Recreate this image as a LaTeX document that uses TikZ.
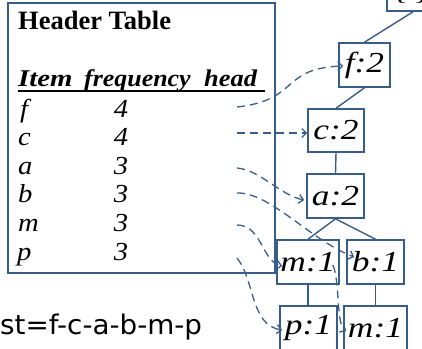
\documentclass[tikz,border=0pt]{standalone}
\usepackage{fontspec}
\setmainfont{Liberation Serif}
\newfontfamily\sansf{DejaVu Sans}
\usetikzlibrary{arrows.meta}
\definecolor{lineblue}{HTML}{385D8A}
\newcommand\widelbl[1]{\scalebox{1.22}[1]{#1}}
\newcommand\widerow[1]{\scalebox{1.1}[1]{#1}}
\begin{document}
\begin{tikzpicture}[x=1pt,y=-1pt,
  tbox/.style={draw=lineblue,line width=1.6pt,minimum height=44pt,inner sep=0pt,
    font=\fontsize{29}{33}\selectfont\itshape},
  link/.style={draw=lineblue,line width=1.4pt},
  dlink/.style={draw=lineblue,line width=1.3pt,dash pattern=on 8pt off 5pt,
    -{Straight Barb[length=4.5pt,width=9pt]}},
  txt/.style={inner sep=0pt,anchor=base west},
  hdr/.style={txt,font=\fontsize{24}{28}\selectfont\bfseries\itshape},
  itm/.style={txt,font=\fontsize{26}{30}\selectfont\itshape},
  num/.style={inner sep=0pt,anchor=base,font=\fontsize{26}{30}\selectfont\itshape}]
\useasboundingbox (0,0) rectangle (422,348);
% header table frame
\node[draw=lineblue,line width=1.6pt,minimum width=267pt,minimum height=270pt,inner sep=0pt] (htable) at (141.5,138) {};
\node[txt,font=\fontsize{26.5}{30}\selectfont\bfseries] (htitle) at (18,29) {Header Table};
\node[hdr] (hitem) at (18,86) {\scalebox{1.2}[1]{Item}};
\node[hdr] (hfreq) at (84,86) {\scalebox{1.08}[1]{frequency}};
\node[hdr] (hhead) at (204,86) {\scalebox{1.1}[1]{head}};
\draw[line width=2.5pt] (18,91) -- (265,91);
% rows
\node[itm] (rf) at (20,117) {\widerow{f}};
\node[itm] (rc) at (18,145.6) {\widerow{c}};
\node[itm] (ra) at (18,174.2) {\widerow{a}};
\node[itm] (rb) at (18,202.8) {\widerow{b}};
\node[itm] (rm) at (18,231.4) {\widerow{m}};
\node[itm] (rp) at (17,260) {\widerow{p}};
\node[num] (nf) at (121,117) {\widerow{4}};
\node[num] (nc) at (121,145.6) {\widerow{4}};
\node[num] (na) at (121,174.2) {\widerow{3}};
\node[num] (nb) at (121,202.8) {\widerow{3}};
\node[num] (nm) at (121,231.4) {\widerow{3}};
\node[num] (np) at (121,260) {\widerow{3}};
% tree
\node[tbox,minimum width=52pt,minimum height=40pt] (root) at (413,-9) {\widelbl{\{\,\}}};
\node[tbox,minimum width=51pt] (f2) at (364.5,65) {\widelbl{f:2}};
\node[tbox,minimum width=56pt,minimum height=43pt] (c2) at (336,130.5) {\widelbl{c:2}};
\node[tbox,minimum width=57pt] (a2) at (335.5,196) {\widelbl{a:2}};
\node[tbox,minimum width=62pt] (m1) at (308,262) {\widelbl{m:1}};
\node[tbox,minimum width=57pt] (b1) at (375.5,262) {\widelbl{b:1}};
\node[tbox,minimum width=57pt] (p1) at (308.5,328) {\widelbl{p:1}};
\node[tbox,minimum width=63pt] (m1b) at (375.5,328) {\widelbl{m:1}};
\draw[link] (root.south) -- (f2.north);
\draw[link] (f2.south) -- (c2.north);
\draw[link] (c2.south) -- (a2.north);
\draw[link] (a2.south) -- (m1.north);
\draw[link] (a2.south) -- (b1.north);
\draw[link] (m1.south) -- (m1.south |- p1.north);
\draw[link] (b1.south) -- (m1b.north);
% head links
\coordinate (sf) at (237,107);
\coordinate (sc) at (237,133);
\coordinate (sa) at (237,168);
\coordinate (sb) at (237,193);
\coordinate (sm) at (237,225);
\coordinate (sp) at (237,258);
\draw[dlink] (sf) .. controls (300,100) and (280,68) .. ([shift={(5,1)}]f2.west);
\draw[dlink] (sc) -- (sc -| c2.west);
\draw[dlink] (sa) .. controls (260,170) and (280,195) .. ([shift={(-2,4)}]a2.west);
\draw[dlink] (sb) .. controls (270,192) and (310,240) .. ([shift={(8,-5)}]b1.west);
\draw[dlink] (sm) .. controls (262,225) and (262,262) .. ([shift={(6,4)}]m1.west);
\draw[dlink] (sp) .. controls (255,280) and (250,325) .. ([shift={(3,2)}]p1.west);
\draw[dlink] ([shift={(-7,3)}]m1.east) .. controls (340,280) and (336,325) .. ([shift={(3,3)}]m1b.west);
% bottom text
\node[txt,font=\fontsize{27}{32}\selectfont\sansf] (lst) at (0,334) {\scalebox{1.03}[1]{st=f-c-a-b-m-p}};
\end{tikzpicture}
\end{document}
